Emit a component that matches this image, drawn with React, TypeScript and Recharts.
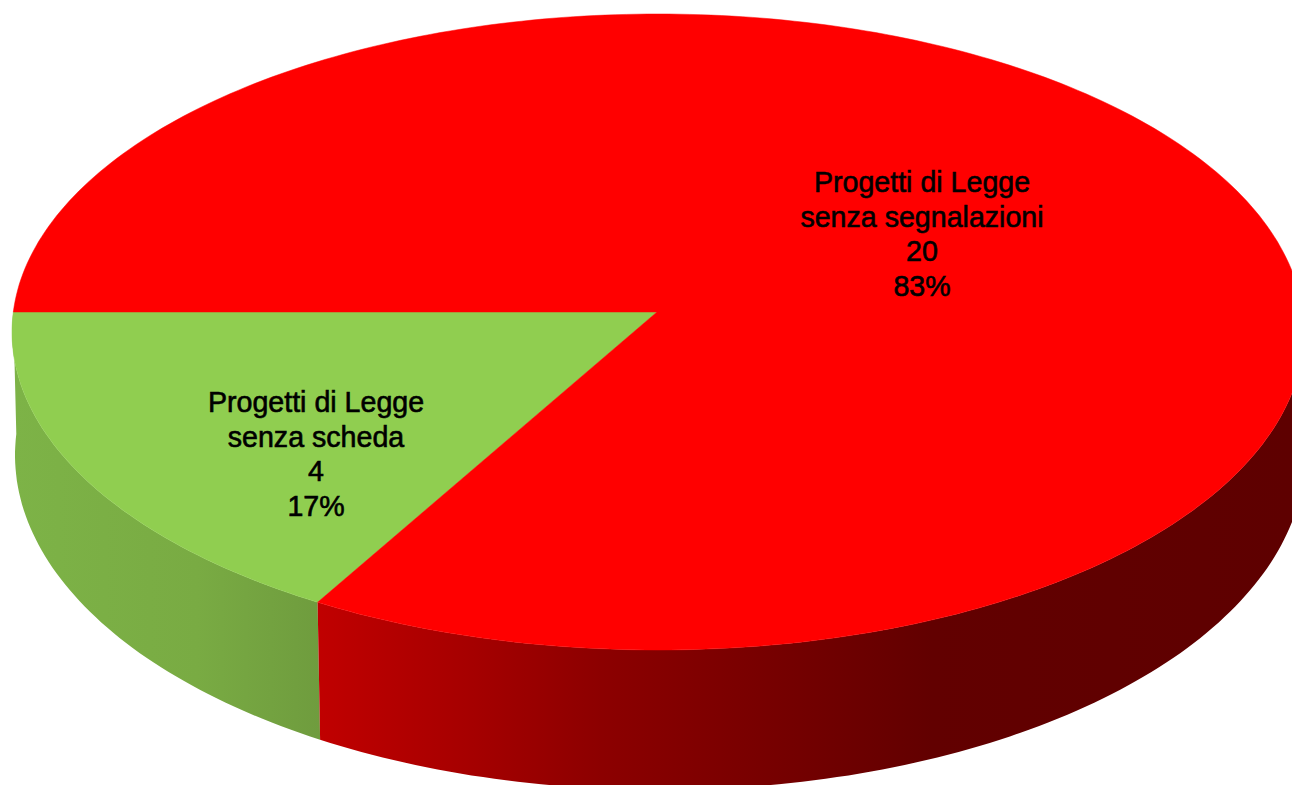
import React from "react";
import { PieChart, Pie } from "recharts";

const categories = ["Progetti di Legge senza scheda", "Progetti di Legge senza segnalazioni"];
const nameLines = [["Progetti di Legge", "senza scheda"], ["Progetti di Legge", "senza segnalazioni"]];
const values = [4, 20];
const percentLabels = ["17%", "83%"];
const topColors = ["#90CE50", "#FF0000"];
const wallFills = ["url(#wallGreen)", "url(#wallRed)"];

const topData = categories.map((name, i) => ({ name, value: values[i], fill: topColors[i], idx: i }));
const wallData = categories.map((name, i) => ({ name, value: values[i], fill: wallFills[i], idx: i }));

// projection of the pie disc on the page
const TOP = { cx: 658, cy: 332, rx: 646, ry: 318 };
const BOTTOM = { cx: 660, cy: 455, rx: 645, ry: 335 };
const SKEW = 3.6;
const RAD = Math.PI / 180;

const phi = (deg: number) => deg + SKEW * Math.cos(deg * RAD);
const rim = (e: typeof TOP, deg: number) => {
  const p = phi(deg) * RAD;
  return [e.cx + e.rx * Math.cos(p), e.cy - e.ry * Math.sin(p)];
};
const arc = (e: typeof TOP, from: number, to: number) => {
  const n = Math.max(2, Math.ceil(Math.abs(to - from)));
  const pts: number[][] = [];
  for (let i = 0; i <= n; i++) pts.push(rim(e, from + ((to - from) * i) / n));
  return pts;
};
const toPath = (pts: number[][]) =>
  "M" + pts.map((p) => p[0].toFixed(1) + "," + p[1].toFixed(1)).join("L") + "Z";

const TopSlice = (props: any) => {
  const { cx, cy, startAngle, endAngle, fill } = props;
  return <path d={toPath([[cx, cy], ...arc(TOP, startAngle, endAngle)])} fill={fill} stroke={fill} strokeWidth={0.5} />;
};

const WallSlice = (props: any) => {
  const { startAngle, endAngle, fill } = props;
  const a = Math.max(startAngle, 180);
  const b = Math.min(endAngle, 360);
  if (b <= a) return null;
  return <path d={toPath([...arc(TOP, a, b), ...arc(BOTTOM, b, a)])} fill={fill} />;
};

const labelCentres = [
  { x: 316, y: 412 },
  { x: 922, y: 192 },
];

const SliceLabel = (props: any) => {
  const i = props.idx ?? props.index;
  const c = labelCentres[i];
  const lines = [...nameLines[i], String(values[i]), percentLabels[i]];
  return (
    <text
      x={c.x}
      y={c.y}
      textAnchor="middle"
      fill="#000"
      stroke="#000"
      strokeWidth={0.6}
      fontFamily="'Liberation Sans', Arial, sans-serif"
      fontSize={28.6}
    >
      {lines.map((t, k) => (
        <tspan key={k} x={c.x} dy={k === 0 ? 0 : 34.6}>
          {t}
        </tspan>
      ))}
    </text>
  );
};

export default function App() {
  return (
    <div style={{ position: "absolute", left: 0, top: 0, width: 1292, height: 785, overflow: "hidden", background: "#fff" }}>
      <PieChart width={1292} height={785} margin={{ top: 0, right: 0, bottom: 0, left: 0 }}>
        <defs>
          <linearGradient id="wallGreen" gradientUnits="userSpaceOnUse" x1={12} y1={0} x2={320} y2={0}>
            <stop offset="0" stopColor="#7DB347" />
            <stop offset="0.6" stopColor="#79AB43" />
            <stop offset="1" stopColor="#6F9C3E" />
          </linearGradient>
          <linearGradient id="wallRed" gradientUnits="userSpaceOnUse" x1={320} y1={0} x2={1292} y2={0}>
            <stop offset="0" stopColor="#C00000" />
            <stop offset="0.14" stopColor="#A80000" />
            <stop offset="0.29" stopColor="#8C0000" />
            <stop offset="0.55" stopColor="#6C0000" />
            <stop offset="0.63" stopColor="#620000" />
            <stop offset="1" stopColor="#5E0000" />
          </linearGradient>
        </defs>
        <Pie
          data={wallData}
          dataKey="value"
          nameKey="name"
          cx={657}
          cy={312}
          outerRadius={643}
          startAngle={180}
          endAngle={540}
          stroke="none"
          shape={WallSlice}
          isAnimationActive={false}
          rootTabIndex={-1}
        />
        <Pie
          data={topData}
          dataKey="value"
          nameKey="name"
          cx={657}
          cy={312}
          outerRadius={643}
          startAngle={180}
          endAngle={540}
          stroke="none"
          shape={TopSlice}
          label={SliceLabel}
          labelLine={false}
          isAnimationActive={false}
          rootTabIndex={-1}
        />
      </PieChart>
    </div>
  );
}
